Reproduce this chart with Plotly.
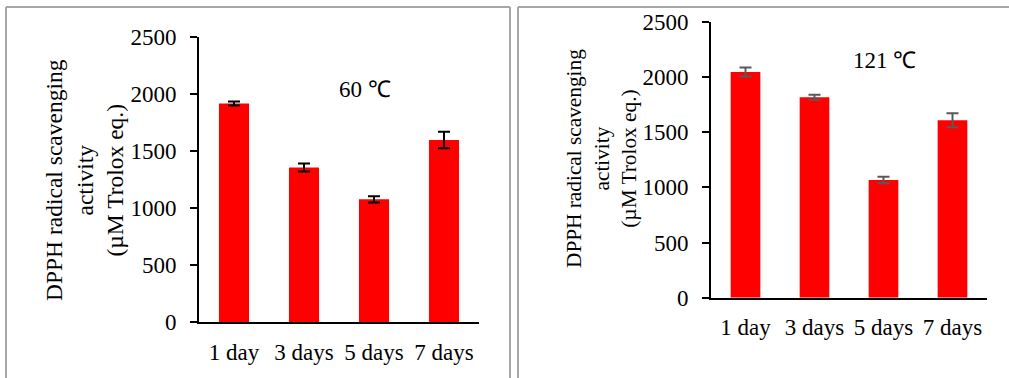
import plotly.graph_objects as go

# Storage time categories
categories = ["1 day", "3 days", "5 days", "7 days"]

# DPPH scavenging activity (µM Trolox eq.) and standard deviations
activity_60 = [1917, 1355, 1076, 1597]
error_60 = [18, 35, 28, 72]
activity_121 = [2044, 1815, 1066, 1607]
error_121 = [41, 23, 29, 63]

y_ticks = [0, 500, 1000, 1500, 2000, 2500]

W, H = 1009, 378
FONT = "Liberation Serif"


def px_x(v):
    return v / W


def px_y(v):
    return 1 - v / H


fig = go.Figure()

fig.add_trace(go.Bar(
    x=categories, y=activity_60, marker_color="#ff0000", marker_line_width=0,
    error_y=dict(type="data", array=error_60, color="#000000", thickness=2, width=6),
    xaxis="x", yaxis="y", showlegend=False,
))
fig.add_trace(go.Bar(
    x=categories, y=activity_121, marker_color="#ff0000", marker_line_width=0,
    error_y=dict(type="data", array=error_121, color="#595959", thickness=2, width=6),
    xaxis="x2", yaxis="y2", showlegend=False,
))

axis_font = dict(family=FONT, size=23, color="#000000")

common_x = dict(showline=True, linecolor="#000000", linewidth=2, ticks="",
                tickfont=axis_font, showgrid=False, zeroline=False, fixedrange=True,
                ticklabelstandoff=8, automargin=False)
common_y = dict(showline=True, linecolor="#000000", linewidth=2, ticks="outside",
                ticklen=7, tickwidth=2, tickcolor="#000000", tickfont=axis_font,
                tickvals=y_ticks, range=[0, 2500], showgrid=False, zeroline=False,
                fixedrange=True, ticklabelstandoff=9, automargin=False)

fig.update_layout(
    width=W, height=H, autosize=False,
    margin=dict(l=0, r=0, t=0, b=0, pad=0, autoexpand=False),
    paper_bgcolor="#ffffff", plot_bgcolor="#ffffff",
    bargap=0.57,
    showlegend=False,
    font=dict(family=FONT),
    xaxis=dict(domain=[px_x(199), px_x(479)], anchor="y", **common_x),
    yaxis=dict(domain=[px_y(322), px_y(37)], anchor="x", **common_y),
    xaxis2=dict(domain=[px_x(711), px_x(987)], anchor="y2", **common_x),
    yaxis2=dict(domain=[px_y(297.7), px_y(21.7)], anchor="x2", **common_y),
)

# Panel frames (open at the bottom edge)
frame = dict(color="#a6a6a6", width=2)
for x0, x1 in [(6, 510), (518, 1012)]:
    fig.add_shape(type="line", xref="paper", yref="paper",
                  x0=px_x(x0), x1=px_x(x1), y0=px_y(7), y1=px_y(7), line=frame)
    fig.add_shape(type="line", xref="paper", yref="paper",
                  x0=px_x(x0), x1=px_x(x0), y0=px_y(7), y1=px_y(380), line=frame)
    fig.add_shape(type="line", xref="paper", yref="paper",
                  x0=px_x(x1), x1=px_x(x1), y0=px_y(7), y1=px_y(380), line=frame)

# Y-axis titles
title_text = "DPPH radical scavenging<br>activity<br>(µM Trolox eq.)"
fig.add_annotation(text=title_text, xref="paper", yref="paper",
                   x=px_x(84), y=px_y(180), textangle=-90, showarrow=False,
                   font=dict(family=FONT, size=23.5, color="#000000"),
                   xanchor="center", yanchor="middle")
fig.add_annotation(text=title_text, xref="paper", yref="paper",
                   x=px_x(601), y=px_y(159), textangle=-90, showarrow=False,
                   font=dict(family=FONT, size=21.3, color="#000000"),
                   xanchor="center", yanchor="middle")

# Temperature labels
temp_font = dict(family=FONT, size=23, color="#000000")
fig.add_annotation(text="60 ℃", xref="paper", yref="paper",
                   x=px_x(337), y=px_y(89), showarrow=False, font=temp_font,
                   xanchor="left", yanchor="middle")
fig.add_annotation(text="121 ℃", xref="paper", yref="paper",
                   x=px_x(851), y=px_y(60), showarrow=False, font=temp_font,
                   xanchor="left", yanchor="middle")

fig.write_html("out.html", config={"displayModeBar": False})
